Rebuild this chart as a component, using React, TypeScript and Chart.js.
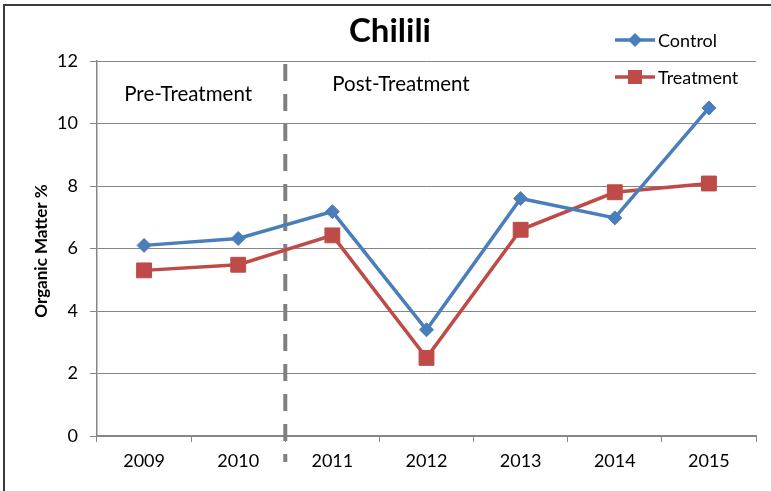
import React, { useEffect, useRef } from "react";
import { Chart, registerables } from "chart.js";

Chart.register(...registerables);

const years = ["2009", "2010", "2011", "2012", "2013", "2014", "2015"];
const controlValues = [6.1, 6.32, 7.18, 3.4, 7.6, 6.98, 10.5];
const treatmentValues = [5.3, 5.48, 6.42, 2.5, 6.6, 7.8, 8.08];
const yTicks = [0, 2, 4, 6, 8, 10, 12];

const titleText = "Chilili";
const yTitleText = "Organic Matter %";
const preLabel = "Pre-Treatment";
const postLabel = "Post-Treatment";
const seriesNames = ["Control", "Treatment"];

const BLUE = "#4a7ebb";
const RED = "#be4b48";
const FONT = "Lato, 'Open Sans', sans-serif";

export default function App() {
  const ref = useRef<HTMLCanvasElement | null>(null);

  useEffect(() => {
    const canvas = ref.current;
    if (!canvas) return;

    const overlay = {
      id: "overlay",
      beforeDatasetsDraw(chart: any) {
        const ctx = chart.ctx;
        const xs = chart.scales.x;
        const ys = chart.scales.y;
        const x = (xs.getPixelForValue(1) + xs.getPixelForValue(2)) / 2;
        ctx.save();
        ctx.strokeStyle = "#808080";
        ctx.lineWidth = 4;
        ctx.setLineDash([17, 13]);
        ctx.beginPath();
        ctx.moveTo(x, ys.top + 3);
        ctx.lineTo(x, ys.bottom + 26);
        ctx.stroke();
        ctx.restore();
      },
      afterDraw(chart: any) {
        const ctx = chart.ctx;
        const xs = chart.scales.x;
        ctx.save();
        // outer border
        ctx.strokeStyle = "#3a3a3a";
        ctx.lineWidth = 2;
        ctx.beginPath();
        ctx.moveTo(4, 495);
        ctx.lineTo(4, 5);
        ctx.lineTo(775, 5);
        ctx.stroke();

        // title
        ctx.fillStyle = "#000";
        ctx.textAlign = "center";
        ctx.textBaseline = "middle";
        ctx.font = `bold 33px ${FONT}`;
        ctx.fillText(titleText, 390, 31);

        // y-axis title
        ctx.save();
        ctx.translate(42, 251);
        ctx.rotate(-Math.PI / 2);
        ctx.font = `bold 17px ${FONT}`;
        ctx.fillText(yTitleText, 0, 0);
        ctx.restore();

        // annotations
        ctx.font = `20.5px ${FONT}`;
        const preX = (xs.getPixelForValue(0) + xs.getPixelForValue(1)) / 2;
        ctx.fillText(preLabel, preX - 3, 94);
        ctx.fillText(postLabel, 401, 84);

        // legend
        const legendItems = [
          { name: seriesNames[0], color: BLUE, y: 40, style: "diamond" },
          { name: seriesNames[1], color: RED, y: 77, style: "square" },
        ];
        legendItems.forEach((it) => {
          ctx.strokeStyle = it.color;
          ctx.fillStyle = it.color;
          ctx.lineWidth = 3.5;
          ctx.setLineDash([]);
          ctx.beginPath();
          ctx.moveTo(615, it.y);
          ctx.lineTo(655, it.y);
          ctx.stroke();
          if (it.style === "diamond") {
            ctx.beginPath();
            ctx.moveTo(635, it.y - 7);
            ctx.lineTo(642, it.y);
            ctx.lineTo(635, it.y + 7);
            ctx.lineTo(628, it.y);
            ctx.closePath();
            ctx.fill();
          } else {
            ctx.fillRect(628, it.y - 7, 14, 14);
          }
          ctx.fillStyle = "#000";
          ctx.textAlign = "left";
          ctx.font = `18px ${FONT}`;
          ctx.fillText(it.name, 658, it.y + 1);
        });
        ctx.restore();
      },
    };

    const chart = new Chart(canvas, {
      type: "line",
      data: {
        labels: years,
        datasets: [
          {
            label: seriesNames[0],
            data: controlValues,
            borderColor: BLUE,
            backgroundColor: BLUE,
            borderWidth: 3.5,
            pointStyle: "rectRot",
            pointRadius: 7,
            pointBorderWidth: 1,
            tension: 0,
          },
          {
            label: seriesNames[1],
            data: treatmentValues,
            borderColor: RED,
            backgroundColor: RED,
            borderWidth: 3.5,
            pointStyle: "rect",
            pointRadius: 10.5,
            pointBorderWidth: 1,
            tension: 0,
          },
        ],
      },
      options: {
        animation: false,
        responsive: true,
        maintainAspectRatio: false,
        layout: { padding: { left: 0, right: 15, top: 61, bottom: 0 } },
        plugins: {
          legend: { display: false },
          title: { display: false },
          tooltip: { enabled: false },
        },
        scales: {
          x: {
            offset: true,
            grid: {
              offset: true,
              drawOnChartArea: false,
              drawTicks: true,
              tickLength: 6,
              color: "#868686",
              lineWidth: 1,
            },
            border: { color: "#868686", width: 1.5 },
            ticks: {
              color: "#000",
              font: { family: FONT, size: 18 },
              padding: 8,
            },
            afterFit(scale: any) {
              scale.height = 55;
            },
          },
          y: {
            min: 0,
            max: 12,
            afterBuildTicks(scale: any) {
              scale.ticks = yTicks.map((v) => ({ value: v }));
            },
            grid: {
              color: "#868686",
              lineWidth: 1,
              tickLength: 7,
            },
            border: { color: "#868686", width: 1.5 },
            ticks: {
              color: "#000",
              font: { family: FONT, size: 18 },
              padding: 12,
            },
            afterFit(scale: any) {
              scale.width = 97;
            },
          },
        },
      },
      plugins: [overlay],
    });

    return () => chart.destroy();
  }, []);

  return (
    <div style={{ position: "absolute", left: 0, top: 0, width: 771, height: 491, background: "#fff" }}>
      <canvas ref={ref} />
    </div>
  );
}
